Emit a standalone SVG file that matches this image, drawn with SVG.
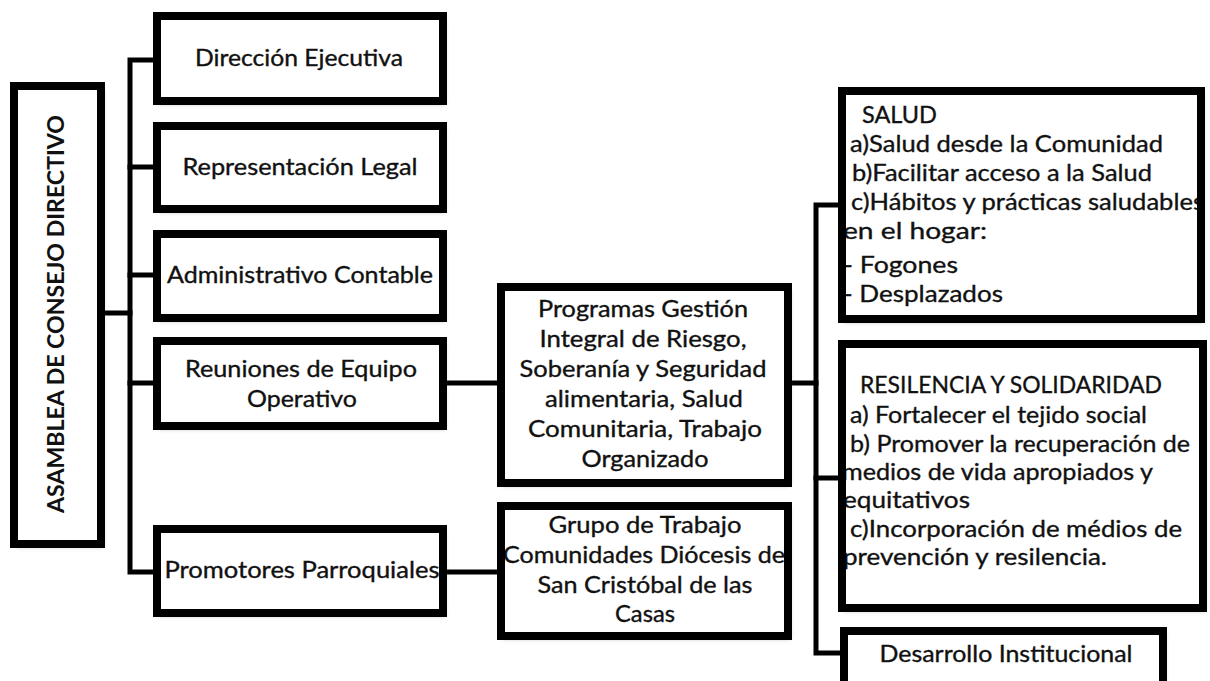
<svg xmlns="http://www.w3.org/2000/svg" width="1210" height="681" viewBox="0 0 1210 681">
<style>
.bg{fill:#ffffff;stroke:none}
.bx{fill:none;stroke:#000;stroke-width:8}
.t{font-family:Lato,"Open Sans","Liberation Sans",sans-serif;font-size:22.5px;fill:#111;stroke:#111;stroke-width:0.35}
.tr{font-family:Lato,"Open Sans","Liberation Sans",sans-serif;font-size:23.5px;fill:#111;stroke:#111;stroke-width:0.35}
.c{text-anchor:middle}
.b{font-weight:bold;stroke-width:0}
.ln{fill:none;stroke:#000;stroke-width:5;stroke-linejoin:miter;stroke-linecap:square}
</style>
<defs>
<filter id="sh" x="-5%" y="-5%" width="115%" height="115%">
<feDropShadow dx="2" dy="3" stdDeviation="2" flood-color="#777" flood-opacity="0.55"/>
</filter>
</defs>
<rect x="0" y="0" width="1210" height="681" fill="#fff"/>
<g id="connectors">
<path class="ln" d="M153,60 H130 V572 H153"/>
<path class="ln" d="M130,167 H153 M130,275 H153 M130,383 H153"/>
<path class="ln" d="M105,313 H130"/>
<path class="ln" d="M447,383 H497"/>
<path class="ln" d="M447,572 H497"/>
<path class="ln" d="M792,383 H816"/>
<path class="ln" d="M838,205 H816 V653 H840"/>
<path class="ln" d="M816,478 H838"/>
</g>
<g id="asamblea">
<rect class="bg" x="14" y="86" width="87" height="458" filter="url(#sh)"/>
<text class="t b c" transform="translate(64,314) rotate(-90)" font-size="22" textLength="398" lengthAdjust="spacingAndGlyphs">ASAMBLEA DE CONSEJO DIRECTIVO</text>
<rect class="bx" x="14" y="86" width="87" height="458"/>
</g>
<g id="direccion">
<rect class="bg" x="157" y="16" width="286" height="85" filter="url(#sh)"/>
<text class="t c" x="299" y="66" textLength="208" lengthAdjust="spacingAndGlyphs">Dirección Ejecutiva</text>
<rect class="bx" x="157" y="16" width="286" height="85"/>
</g>
<g id="representacion">
<rect class="bg" x="157" y="126" width="286" height="83" filter="url(#sh)"/>
<text class="t c" x="300" y="175" textLength="235" lengthAdjust="spacingAndGlyphs">Representación Legal</text>
<rect class="bx" x="157" y="126" width="286" height="83"/>
</g>
<g id="administrativo">
<rect class="bg" x="157" y="234" width="286" height="84" filter="url(#sh)"/>
<text class="t c" x="300" y="283" textLength="266" lengthAdjust="spacingAndGlyphs">Administrativo Contable</text>
<rect class="bx" x="157" y="234" width="286" height="84"/>
</g>
<g id="reuniones">
<rect class="bg" x="157" y="341" width="286" height="85" filter="url(#sh)"/>
<text class="t c"><tspan x="301" y="377" textLength="232" lengthAdjust="spacingAndGlyphs">Reuniones de Equipo</tspan><tspan x="302" y="407" textLength="110" lengthAdjust="spacingAndGlyphs">Operativo</tspan></text>
<rect class="bx" x="157" y="341" width="286" height="85"/>
</g>
<g id="promotores">
<rect class="bg" x="157" y="529" width="286" height="84" filter="url(#sh)"/>
<text class="t c" x="302" y="578" textLength="275" lengthAdjust="spacingAndGlyphs">Promotores Parroquiales</text>
<rect class="bx" x="157" y="529" width="286" height="84"/>
</g>
<g id="programas">
<rect class="bg" x="501" y="287" width="287" height="196" filter="url(#sh)"/>
<text class="t c"><tspan x="643" y="317" textLength="210" lengthAdjust="spacingAndGlyphs">Programas Gestión</tspan><tspan x="643" y="347" textLength="207" lengthAdjust="spacingAndGlyphs">Integral de Riesgo,</tspan><tspan x="643" y="377" textLength="247" lengthAdjust="spacingAndGlyphs">Soberanía y Seguridad</tspan><tspan x="644" y="407" textLength="198" lengthAdjust="spacingAndGlyphs">alimentaria, Salud</tspan><tspan x="645" y="437" textLength="234" lengthAdjust="spacingAndGlyphs">Comunitaria, Trabajo</tspan><tspan x="645" y="467" textLength="127" lengthAdjust="spacingAndGlyphs">Organizado</tspan></text>
<rect class="bx" x="501" y="287" width="287" height="196"/>
</g>
<g id="grupo">
<rect class="bg" x="501" y="506" width="287" height="130" filter="url(#sh)"/>
<text class="t c"><tspan x="645" y="533" textLength="193" lengthAdjust="spacingAndGlyphs">Grupo de Trabajo</tspan><tspan x="644" y="563" textLength="282" lengthAdjust="spacingAndGlyphs">Comunidades Diócesis de</tspan><tspan x="645" y="593" textLength="215" lengthAdjust="spacingAndGlyphs">San Cristóbal de las</tspan><tspan x="645" y="622" textLength="60" lengthAdjust="spacingAndGlyphs">Casas</tspan></text>
<rect class="bx" x="501" y="506" width="287" height="130"/>
</g>
<g id="salud">
<rect class="bg" x="842" y="91" width="359" height="228" filter="url(#sh)"/>
<text class="tr"><tspan x="862" y="123" textLength="75" lengthAdjust="spacingAndGlyphs">SALUD</tspan><tspan x="850" y="152" textLength="313" lengthAdjust="spacingAndGlyphs">a)Salud desde la Comunidad</tspan><tspan x="852" y="181" textLength="300" lengthAdjust="spacingAndGlyphs">b)Facilitar acceso a la Salud</tspan><tspan x="851" y="210" textLength="353" lengthAdjust="spacingAndGlyphs">c)Hábitos y prácticas saludables</tspan><tspan x="843" y="239" textLength="144" lengthAdjust="spacingAndGlyphs">en el hogar:</tspan><tspan x="843" y="273" textLength="115" lengthAdjust="spacingAndGlyphs">- Fogones</tspan><tspan x="843" y="302" textLength="160" lengthAdjust="spacingAndGlyphs">- Desplazados</tspan></text>
<rect class="bx" x="842" y="91" width="359" height="228"/>
</g>
<g id="resilencia">
<rect class="bg" x="842" y="344" width="361" height="264" filter="url(#sh)"/>
<text class="tr"><tspan x="860" y="393" textLength="302" lengthAdjust="spacingAndGlyphs">RESILENCIA Y SOLIDARIDAD</tspan><tspan x="850" y="423" textLength="297" lengthAdjust="spacingAndGlyphs">a) Fortalecer el tejido social</tspan><tspan x="850" y="452" textLength="340" lengthAdjust="spacingAndGlyphs">b) Promover la recuperación de</tspan><tspan x="842" y="480" textLength="311" lengthAdjust="spacingAndGlyphs">medios de vida apropiados y</tspan><tspan x="843" y="508" textLength="127" lengthAdjust="spacingAndGlyphs">equitativos</tspan><tspan x="850" y="537" textLength="332" lengthAdjust="spacingAndGlyphs">c)Incorporación de médios de</tspan><tspan x="843" y="565" textLength="264" lengthAdjust="spacingAndGlyphs">prevención y resilencia.</tspan></text>
<rect class="bx" x="842" y="344" width="361" height="264"/>
</g>
<g id="desarrollo">
<rect class="bg" x="844" y="631" width="319" height="54" filter="url(#sh)"/>
<text class="t c" x="1006" y="662" textLength="253" lengthAdjust="spacingAndGlyphs">Desarrollo Institucional</text>
<rect class="bx" x="844" y="631" width="319" height="54"/>
</g>
</svg>
